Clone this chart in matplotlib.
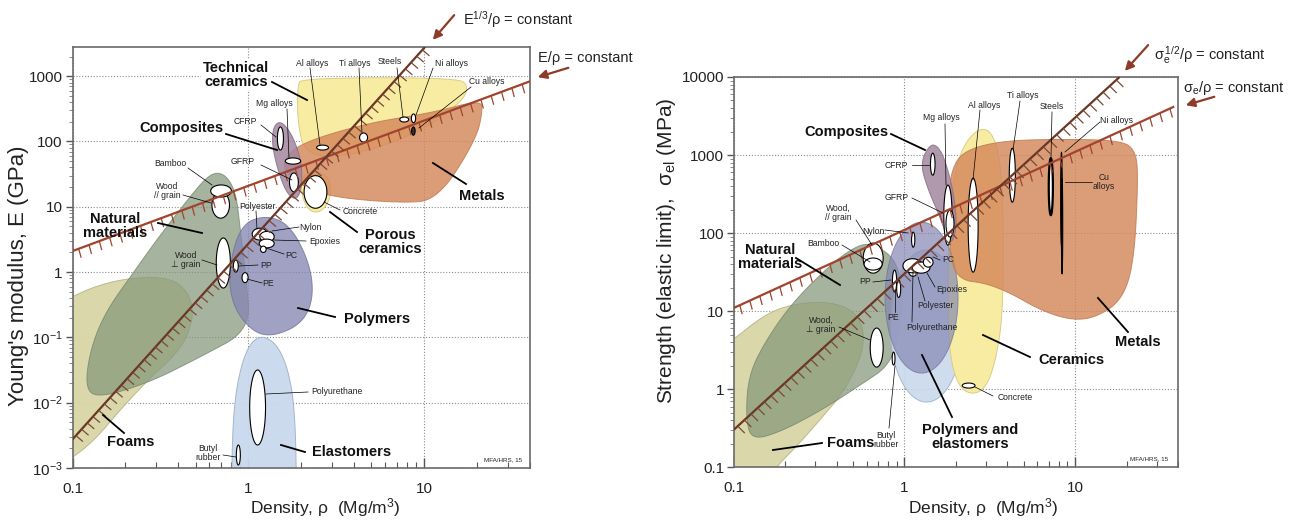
import numpy as np
import matplotlib
matplotlib.use("Agg")
import matplotlib.pyplot as plt
from matplotlib.patches import Polygon, FancyArrowPatch
from matplotlib.lines import Line2D
from matplotlib.collections import LineCollection
from matplotlib.ticker import NullFormatter, LogLocator

plt.rcParams['font.family'] = ['Liberation Sans', 'DejaVu Sans']
plt.rcParams['mathtext.fontset'] = 'custom'
plt.rcParams['mathtext.rm'] = 'Liberation Sans'
plt.rcParams['mathtext.it'] = 'Liberation Sans:italic'
plt.rcParams['mathtext.bf'] = 'Liberation Sans:bold'

# ===================== DATA: modulus - density chart =====================
# envelope outlines: (density Mg/m3, Young's modulus GPa)
mod_foams = [(0.074, 0.26), (0.099, 0.42), (0.14, 0.63), (0.21, 0.81), (0.34, 0.84),
             (0.44, 0.57), (0.49, 0.26), (0.455, 0.11), (0.384, 0.054), (0.276, 0.024),
             (0.186, 0.0077), (0.134, 0.0027), (0.099, 0.0014), (0.074, 0.0009)]
mod_natural = [(0.674, 34), (0.768, 27.6), (0.853, 15.2), (0.899, 4.4), (0.973, 0.76),
               (1.025, 0.13), (0.532, 0.05), (0.269, 0.020), (0.14, 0.0118), (0.118, 0.0168),
               (0.126, 0.064), (0.153, 0.24), (0.221, 0.97), (0.315, 3.7), (0.499, 18.1),
               (0.591, 29.6)]
mod_polymers = [(0.899, 5.26), (1.247, 7.5), (1.733, 5.26), (2.25, 1.28), (2.34, 0.374),
                (1.98, 0.155), (1.332, 0.101), (1.025, 0.13), (0.809, 0.313), (0.768, 1.08)]
mod_elastomers = [(0.80, 0.0002), (0.81, 0.004), (0.86, 0.02), (0.98, 0.07), (1.17, 0.11),
                  (1.45, 0.08), (1.7, 0.03), (1.85, 0.006), (1.88, 0.0002)]
mod_composites = [(1.52, 213), (1.78, 126), (2.03, 44), (1.98, 15.1), (1.78, 12.7),
                  (1.56, 21.6), (1.37, 74), (1.37, 161)]
mod_tech_ceramics = [(2.0, 940), (15.5, 950), (17.8, 700), (16.5, 420), (10, 150),
                     (4, 60), (2.1, 60), (1.9, 200), (1.9, 700)]
mod_porous_ceramics = [(2.0, 30), (2.4, 36), (2.9, 28), (2.95, 14), (2.6, 8.2),
                       (2.2, 8.5), (2.0, 15)]
mod_metals = [(1.58, 52), (1.98, 95), (4.75, 192), (10.9, 273), (20.6, 432), (21.5, 304),
              (19.6, 105), (11.9, 12.7), (7.33, 11.4), (2.92, 14.1), (1.98, 21.6), (1.62, 34)]

# material bubbles: density range, modulus range
mod_names = ["Wood //", "Bamboo", "Wood perp", "PP", "PE", "Polyester", "Nylon", "Epoxies",
             "PC", "Al alloys", "Mg alloys", "CFRP", "GFRP", "Ti alloys", "Steels",
             "Ni alloys", "Cu alloys", "Concrete", "Polyurethane", "Butyl rubber"]
mod_rho_lo = [0.62, 0.61, 0.656, 0.82, 0.919, 1.05, 1.16, 1.15, 1.17, 2.44, 1.62, 1.46,
              1.71, 4.28, 7.24, 8.43, 8.45, 2.07, 1.016, 0.853]
mod_rho_hi = [0.78, 0.80, 0.789, 0.875, 0.995, 1.28, 1.40, 1.40, 1.26, 2.85, 1.98, 1.58,
              1.92, 4.75, 8.13, 8.91, 8.85, 2.79, 1.25, 0.899]
mod_E_lo = [6.7, 14.1, 0.57, 1.0, 0.69, 3.1, 2.9, 2.35, 2.0, 74, 45, 74, 17, 98, 199,
            194, 125, 9.5, 0.00225, 0.00111]
mod_E_hi = [16.9, 21.6, 3.33, 1.53, 0.98, 4.7, 4.2, 3.2, 2.5, 88, 56, 167, 33, 135, 237,
            264, 167, 30, 0.0317, 0.00225]
mod_dark = ["Cu alloys"]

# guide lines
mod_C_specific = 21.0      # E/rho = const
mod_C_plate = 1.4          # E^(1/3)/rho = const

# ===================== DATA: strength - density chart =====================
str_foams = [(0.077, 3.18), (0.099, 4.27), (0.1426, 8.17), (0.192, 11.3), (0.28, 13.1),
             (0.392, 12.7), (0.514, 9.75), (0.58, 5.73), (0.564, 2.74), (0.449, 0.978),
             (0.32, 0.404), (0.2286, 0.177), (0.1745, 0.098), (0.15, 0.05), (0.077, 0.05)]
str_natural = [(0.588, 74.5), (0.72, 64.3), (0.858, 47.9), (0.943, 29), (0.982, 13.9),
               (0.943, 5.73), (0.824, 2.04), (0.55, 1.13), (0.329, 0.542), (0.1866, 0.283),
               (0.128, 0.224), (0.118, 0.404), (0.121, 1.31), (0.1426, 3.18), (0.2136, 12.0),
               (0.3665, 38.9), (0.48, 60.5)]
str_polymers = [(0.77, 2.06), (1.61, 138)]      # density range, strength range
str_elastomers = [(0.824, 2.20), (0.685, 60.8)]
str_composites = [(1.41, 1380), (1.235, 787), (1.377, 355), (1.618, 160), (1.853, 66),
                  (2.04, 119), (1.93, 355), (1.73, 861), (1.57, 1300)]
str_ceramics = [(2.97, 2420), (3.54, 1340), (3.79, 263), (3.79, 10.3), (3.44, 2.37),
                (2.97, 0.98), (2.36, 0.845), (1.98, 1.31), (1.80, 4.27), (1.80, 45),
                (1.90, 479), (2.27, 1550)]
str_metals = [(1.90, 700), (2.27, 1156), (3.64, 1507), (7.14, 1600), (18.4, 1553),
              (22.5, 1156), (23.4, 553), (22.2, 45), (18.9, 13.9), (13.1, 8.2), (9.36, 7.7),
              (6.25, 10.3), (4.17, 17.1), (2.97, 22.9), (2.12, 25), (1.85, 45), (1.80, 263)]

str_names = ["Wood //", "Bamboo", "Wood perp", "Butyl rubber", "PP", "PE", "Nylon",
             "Polyurethane", "Polyester", "Epoxies", "PC", "CFRP", "Mg alloys", "GFRP",
             "Al alloys", "Ti alloys", "Steels", "Ni alloys", "Cu alloys", "Concrete"]
str_rho_lo = [0.573, 0.58, 0.63, 0.847, 0.85, 0.90, 1.10, 1.05, 0.98, 1.11, 1.29, 1.42,
              1.70, 1.75, 2.36, 4.11, 7.00, 8.22, 8.30, 2.18]
str_rho_hi = [0.75, 0.74, 0.75, 0.88, 0.90, 0.95, 1.15, 1.20, 1.27, 1.41, 1.47, 1.51,
              1.90, 1.95, 2.70, 4.46, 7.40, 8.40, 8.45, 2.59]
str_s_lo = [30.7, 33.6, 1.92, 2.04, 17.6, 15, 66, 28, 31, 30.7, 36.7, 553, 70, 89, 31.6,
            249, 170, 70, 30, 1.035]
str_s_hi = [74.5, 48, 6.08, 2.99, 33.6, 25, 103, 42, 47, 42.6, 49, 1057, 412, 197, 506,
            1224, 912, 1090, 500, 1.2]
str_dark = ["Ni alloys", "Cu alloys"]
str_bold = ["Steels"]

str_C_specific = 110.0     # sigma/rho = const
str_C_beam = 5.5           # sigma^(1/2)/rho = const

# ===================== helpers =====================
W, H = 1294, 520


def chaikin(P, n=4):
    P = np.asarray(P, float)
    for _ in range(n):
        N = np.roll(P, -1, axis=0)
        Q = 0.75 * P + 0.25 * N
        R = 0.25 * P + 0.75 * N
        P = np.empty((2 * len(Q), 2))
        P[0::2] = Q
        P[1::2] = R
    return P


def envelope(ax, pts, fc, ec, alpha, z):
    L = np.log10(np.asarray(pts, float))
    S = chaikin(L, 4)
    ax.add_patch(Polygon(10 ** S, closed=True, fc=fc, ec=ec, lw=0.7, alpha=alpha, zorder=z))


def log_ellipse(ax, xr, yr, fc, ec, alpha, z, lw=0.7):
    cx, hx = np.mean(np.log10(xr)), np.diff(np.log10(xr))[0] / 2
    cy, hy = np.mean(np.log10(yr)), np.diff(np.log10(yr))[0] / 2
    t = np.linspace(0, 2 * np.pi, 120)
    xy = np.c_[10 ** (cx + hx * np.cos(t)), 10 ** (cy + hy * np.sin(t))]
    ax.add_patch(Polygon(xy, closed=True, fc=fc, ec=ec, lw=lw, alpha=alpha, zorder=z))


def hatched(ax, C, n, r0, r1, color, spacing, dvec, lw=1.5, hlw=0.8, hcolor=None):
    r = np.logspace(np.log10(r0), np.log10(r1), 600)
    v = (C * r) ** n
    ax.plot(r, v, color=color, lw=lw, zorder=7, solid_capstyle='butt')
    disp = ax.transData.transform(np.c_[r, v])
    seg = np.r_[0, np.cumsum(np.hypot(*np.diff(disp, axis=0).T))]
    s = np.arange(spacing * 0.6, seg[-1], spacing)
    px = np.interp(s, seg, disp[:, 0])
    py = np.interp(s, seg, disp[:, 1])
    inv = ax.transData.inverted()
    a = inv.transform(np.c_[px, py])
    b = inv.transform(np.c_[px + dvec[0], py + dvec[1]])
    lc = LineCollection([[p, q] for p, q in zip(a, b)], colors=hcolor or color,
                        linewidths=hlw, zorder=7)
    ax.add_collection(lc)


def ftext(x, y, s, size=6.2, weight='normal', ha='center', color='#222222', **kw):
    fig.text(x / W, 1 - y / H, s, fontsize=size, fontweight=weight, ha=ha, va='center',
             color=color, linespacing=1.0, **kw)


def leader(x0, y0, x1, y1, lw=0.5):
    fig.add_artist(Line2D([x0 / W, x1 / W], [1 - y0 / H, 1 - y1 / H],
                          transform=fig.transFigure, color='black', lw=lw, zorder=20))


def arrow(x0, y0, x1, y1):
    fig.add_artist(FancyArrowPatch((x0 / W, 1 - y0 / H), (x1 / W, 1 - y1 / H),
                                   transform=fig.transFigure, arrowstyle='-|>',
                                   mutation_scale=13, color='#8e3b28', lw=1.6))


def style_axes(ax):
    ax.set_xscale('log')
    ax.set_yscale('log')
    ax.set_axisbelow(True)
    ax.grid(True, which='major', ls=(0, (1, 1.6)), color='#8a8a8a', lw=0.8)
    for sp in ax.spines.values():
        sp.set_color('#6a6a6a')
        sp.set_linewidth(1.2)
    ax.xaxis.set_minor_formatter(NullFormatter())
    ax.yaxis.set_minor_formatter(NullFormatter())
    ax.xaxis.set_minor_locator(LogLocator(base=10, subs=np.arange(2, 10)))
    ax.yaxis.set_minor_locator(LogLocator(base=10, subs=np.arange(2, 10)))
    ax.tick_params(axis='x', which='major', direction='in', length=7, width=1.0,
                   colors='#555555', labelsize=11, labelcolor='#222222', pad=10)
    ax.tick_params(axis='x', which='minor', direction='in', length=4, width=0.8,
                   colors='#555555')
    ax.tick_params(axis='y', which='major', direction='out', length=5, width=1.0,
                   colors='#555555', labelsize=11, labelcolor='#222222', pad=2)
    ax.tick_params(axis='y', which='minor', direction='out', length=3, width=0.6,
                   colors='#777777')
    ax.set_xticks([0.1, 1, 10], ['0.1', '1', '10'])


# ===================== figure =====================
fig = plt.figure(figsize=(W / 100, H / 100), dpi=100)
axL = fig.add_axes([72.5 / W, 52 / H, (530.4 - 72.5) / W, 421 / H])
axR = fig.add_axes([733.75 / W, (H - 467.3) / H, (1178 - 733.75) / W, (467.3 - 77) / H])

YELLOW, YEL_E = '#f7eca2', '#d9cd86'
ORANGE, ORG_E = '#d4875a', '#c07a50'
GREEN, GRN_E = '#84987a', '#6f8266'
TAN, TAN_E = '#d8d6a6', '#b9b68a'
PURPLE, PUR_E = '#8587b3', '#6f7198'
LBLUE, LBL_E = '#c9d9ec', '#9fb3cc'
MAUVE, MAU_E = '#a3869f', '#8a6f86'

# ---------- left: modulus ----------
axL.set_xlim(0.1, 40)
axL.set_ylim(1e-3, 2800)
style_axes(axL)
axL.set_yticks([1e-3, 1e-2, 1e-1, 1, 10, 100, 1000],
               [r'$\mathregular{10^{-3}}$', r'$\mathregular{10^{-2}}$', r'$\mathregular{10^{-1}}$',
                '1', '10', '100', '1000'])

envelope(axL, mod_foams, TAN, TAN_E, 0.95, 1)
envelope(axL, mod_natural, GREEN, GRN_E, 0.72, 2)
envelope(axL, mod_elastomers, LBLUE, LBL_E, 0.95, 2)
envelope(axL, mod_polymers, PURPLE, PUR_E, 0.78, 3)
envelope(axL, mod_tech_ceramics, YELLOW, YEL_E, 1.0, 2)
envelope(axL, mod_porous_ceramics, YELLOW, YEL_E, 1.0, 2)
envelope(axL, mod_metals, ORANGE, ORG_E, 0.82, 3)
envelope(axL, mod_composites, MAUVE, MAU_E, 0.85, 3)

for nm, rl, rh, el, eh in zip(mod_names, mod_rho_lo, mod_rho_hi, mod_E_lo, mod_E_hi):
    fc = '#333333' if nm in mod_dark else 'white'
    log_ellipse(axL, (rl, rh), (el, eh), fc, 'black', 1.0, 5, lw=0.8)

hatched(axL, mod_C_specific, 1, 0.1, 40, '#a0442e', 11, (2.5, -9), lw=1.6, hlw=0.9)
rtop = (2800 ** (1 / 3)) / mod_C_plate
hatched(axL, mod_C_plate, 3, 0.1, rtop, '#6b3626', 8.5, (7, -6), lw=1.6, hlw=0.9,
        hcolor='#7a4a36')

# ---------- right: strength ----------
axR.set_xlim(0.1, 40)
axR.set_ylim(0.1, 10000)
style_axes(axR)
axR.set_yticks([0.1, 1, 10, 100, 1000, 10000], ['0.1', '1', '10', '100', '1000', '10000'])

envelope(axR, str_foams, TAN, TAN_E, 0.95, 1)
envelope(axR, str_natural, GREEN, GRN_E, 0.72, 2)
log_ellipse(axR, str_elastomers[0], str_elastomers[1], LBLUE, LBL_E, 0.9, 2)
log_ellipse(axR, str_polymers[0], str_polymers[1], PURPLE, PUR_E, 0.7, 3)
envelope(axR, str_ceramics, YELLOW, YEL_E, 1.0, 2)
envelope(axR, str_metals, ORANGE, ORG_E, 0.82, 3)
envelope(axR, str_composites, MAUVE, MAU_E, 0.85, 3)

for nm, rl, rh, sl, sh in zip(str_names, str_rho_lo, str_rho_hi, str_s_lo, str_s_hi):
    fc = '#2a2a2a' if nm in str_dark else 'white'
    lw = 1.6 if nm in str_bold else 0.8
    log_ellipse(axR, (rl, rh), (sl, sh), fc, 'black', 1.0, 5, lw=lw)

hatched(axR, str_C_specific, 1, 0.1, 38, '#a0442e', 11, (2.5, -9), lw=1.6, hlw=0.9)
rtop2 = (10000 ** 0.5) / str_C_beam
hatched(axR, str_C_beam, 2, 0.1, rtop2, '#6b3626', 9, (7, -7), lw=1.6, hlw=0.9,
        hcolor='#7a4a36')

# ---------- axis titles ----------
fig.text(325 / W, 1 - 508 / H, r'Density, ρ  (Mg/m$\mathregular{^3}$)', fontsize=12.5,
         ha='center', va='center', color='#222222')
fig.text(983 / W, 1 - 508 / H, r'Density, ρ  (Mg/m$\mathregular{^3}$)', fontsize=12.5,
         ha='center', va='center', color='#222222')
fig.text(19 / W, 1 - 276 / H, "Young's modulus, E (GPa)", fontsize=16, rotation=90,
         ha='center', va='center', color='#222222')
fig.text(667 / W, 1 - 251 / H, r'Strength (elastic limit),  $\mathregular{σ_{el}}$ (MPa)',
         fontsize=15, rotation=90, ha='center', va='center', color='#222222')

# ---------- guide line captions ----------
ftext(463, 20, r'$\mathregular{E^{1/3}/ρ}$ = constant', size=10.5, ha='left')
arrow(456, 13, 431, 42)
ftext(538, 58, 'E/ρ = constant', size=10.5, ha='left')
arrow(571, 67, 535, 78)
ftext(1154, 55, r'$\mathregular{σ_e^{\,1/2}/ρ}$ = constant', size=10.5, ha='left')
arrow(1150, 43, 1123, 73)
ftext(1183, 88, r'$\mathregular{σ_e/ρ}$ = constant', size=10.5, ha='left')
arrow(1217, 96, 1183, 106)

# ---------- family labels (left) ----------
BIG = dict(size=10.5, weight='bold', color='#111111')
ftext(236, 75, 'Technical\nceramics', bbox=dict(fc='white', ec='none', pad=1), **BIG)
leader(272, 82, 307, 100, 1.3)
ftext(181, 128, 'Composites', **BIG); leader(226, 134, 277, 150, 1.3)
ftext(115, 226, 'Natural\nmaterials', **BIG); leader(158, 223, 202, 233, 1.3)
ftext(390, 242, 'Porous\nceramics', **BIG); leader(330, 212, 357, 232, 1.3)
ftext(482, 196, 'Metals', **BIG); leader(433, 163, 466, 184, 1.3)
ftext(377, 319, 'Polymers', **BIG); leader(298, 308, 335, 317, 1.3)
ftext(352, 452, 'Elastomers', **BIG); leader(281, 445, 305, 452, 1.3)
ftext(131, 442, 'Foams', **BIG); leader(103, 415, 124, 433, 1.3)

# ---------- material labels (left) ----------
for s, x, y, l in [
        ('Al alloys', 312, 63, (310, 68, 320, 145)),
        ('Ti alloys', 355, 63, (359, 68, 362, 133)),
        ('Steels', 390, 62, (397, 68, 403, 117)),
        ('Ni alloys', 452, 63, (433, 68, 416, 115)),
        ('Cu alloys', 487, 82, (471, 87, 419, 128)),
        ('Mg alloys', 274, 103, (287, 109, 289, 158)),
        ('CFRP', 245, 122, (261, 125, 276, 137)),
        ('GFRP', 243, 162, (261, 165, 292, 180)),
        ('Bamboo', 170, 164, (188, 168, 212, 185)),
        ('Wood\n// grain', 167, 191, (183, 195, 211, 203)),
        ('Concrete', 360, 212, (340, 210, 324, 202)),
        ('Polyester', 258, 207, (256, 211, 257, 229)),
        ('Nylon', 310, 227, (299, 227, 272, 231)),
        ('Epoxies', 325, 241, (306, 241, 274, 240)),
        ('PC', 291, 255, (284, 254, 266, 248)),
        ('PP', 266, 265, (258, 265, 239, 266)),
        ('PE', 268, 283, (262, 283, 247, 279)),
        ('Wood\n⊥ grain', 186, 260, (202, 260, 217, 265)),
        ('Polyurethane', 337, 392, (308, 392, 266, 394)),
        ('Butyl\nrubber', 208, 453, (223, 455, 236, 457))]:
    ftext(x, y, s)
    leader(*l)
ftext(503, 460, 'MFA/HRS, 15', size=4.5)

# ---------- family labels (right) ----------
ftext(846, 132, 'Composites', **BIG); leader(891, 134, 925, 150, 1.3)
ftext(770, 257, 'Natural\nmaterials', **BIG); leader(796, 258, 840, 285, 1.3)
ftext(1071, 360, 'Ceramics', **BIG); leader(983, 335, 1030, 357, 1.3)
ftext(1138, 342, 'Metals', **BIG); leader(1098, 298, 1128, 332, 1.3)
ftext(970, 437, 'Polymers and\nelastomers', **BIG); leader(922, 355, 952, 417, 1.3)
ftext(851, 443, 'Foams', **BIG); leader(773, 450, 822, 443, 1.3)

# ---------- material labels (right) ----------
for s, x, y, l in [
        ('Mg alloys', 941, 118, (945, 124, 946, 185)),
        ('Al alloys', 984, 105, (980, 110, 973, 180)),
        ('Ti alloys', 1023, 96, (1020, 101, 1013, 150)),
        ('Steels', 1052, 107, (1052, 112, 1051, 157)),
        ('Ni alloys', 1117, 120, (1100, 122, 1065, 152)),
        ('Cu\nalloys', 1104, 182, (1092, 182, 1065, 182)),
        ('CFRP', 896, 165, (912, 165, 930, 165)),
        ('GFRP', 897, 197, (912, 198, 943, 213)),
        ('Wood,\n// grain', 838, 213, (856, 220, 872, 245)),
        ('Nylon', 873, 232, (885, 230, 908, 233)),
        ('Bamboo', 823, 244, (842, 245, 870, 262)),
        ('PP', 865, 282, (873, 282, 891, 280)),
        ('PE', 893, 318, (895, 312, 895, 290)),
        ('Epoxies', 952, 290, (935, 287, 927, 273)),
        ('Polyester', 936, 305, (925, 301, 918, 277)),
        ('Polyurethane', 932, 327, (912, 322, 913, 272)),
        ('PC', 948, 260, (940, 260, 933, 257)),
        ('Wood,\n⊥ grain', 821, 325, (839, 327, 870, 340)),
        ('Butyl\nrubber', 886, 440, (895, 366, 889, 428)),
        ('Concrete', 1015, 397, (975, 387, 993, 396))]:
    ftext(x, y, s)
    leader(*l)
ftext(1149, 459, 'MFA/HRS, 15', size=4.5)

fig.savefig('out.png', dpi=100)
